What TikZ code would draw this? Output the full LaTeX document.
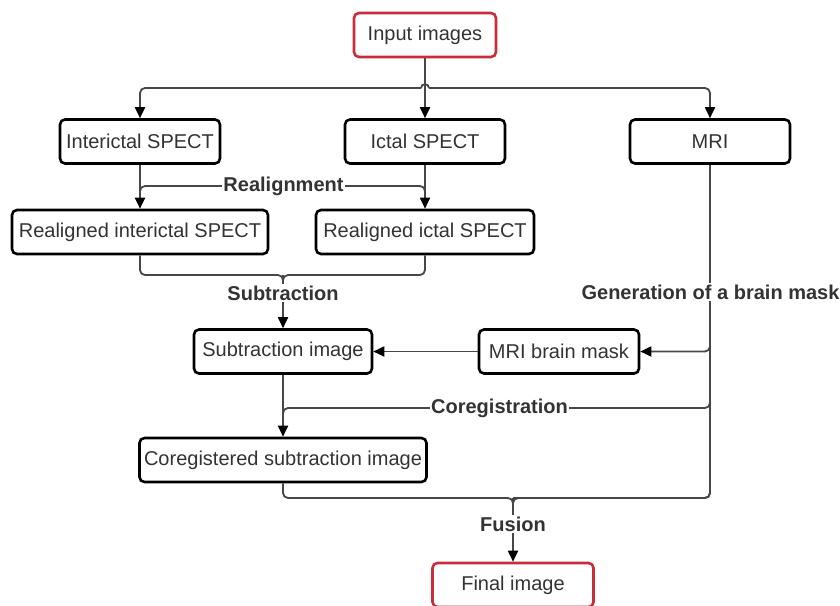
\documentclass[tikz,border=0pt]{standalone}
\usepackage{fontspec}
\setmainfont{Liberation Sans}
\usetikzlibrary{arrows.meta,calc}
\definecolor{lucred}{HTML}{C92D39}
\definecolor{txt}{HTML}{333333}
\definecolor{wirec}{HTML}{474747}
\begin{document}
\begin{tikzpicture}[x=1pt,y=-1pt,
  box/.style={draw=black,line width=2.6pt,rounded corners=5pt,fill=white,text=txt,
    font=\fontsize{20}{24}\selectfont,inner sep=0pt,minimum height=44pt},
  redbox/.style={box,draw=lucred},
  wire/.style={draw=wirec,line width=1.8pt,rounded corners=5pt},
  arr/.style={wire,-{Triangle[length=11pt,width=10pt,color=black]}},
  lbl/.style={fill=white,text=txt,font=\bfseries\fontsize{20}{24}\selectfont,inner sep=1.5pt}]
\useasboundingbox[fill=white] (0,0) rectangle (840,605);

% process boxes
\node[redbox,minimum width=142pt] (in)     at (425,35)    {Input images};
\node[box,minimum width=160pt]    (inter)  at (140,141.5) {Interictal SPECT};
\node[box,minimum width=160pt]    (ict)    at (425,141.5) {Ictal SPECT};
\node[box,minimum width=160pt]    (mri)    at (710,141.5) {MRI};
\node[box,minimum width=256pt]    (rinter) at (140,232)   {Realigned interictal SPECT};
\node[box,minimum width=218pt]    (rict)   at (425,232)   {Realigned ictal SPECT};
\node[box,minimum width=178pt]    (sub)    at (283,351.5) {Subtraction image};
\node[box,minimum width=160pt]    (mask)   at (559,351.5) {MRI brain mask};
\node[box,minimum width=287pt]    (coreg)  at (283,460)   {Coregistered subtraction image};
\node[redbox,minimum width=161pt] (final)  at (513,585)   {Final image};

% helper levels
\coordinate (busy)  at (0,88);
\coordinate (realy) at (0,186);
\coordinate (suby)  at (0,275);
\coordinate (masky) at (0,351.5);
\coordinate (cory)  at (0,408);
\coordinate (fusy)  at (0,498);

% input distribution bus with a line hop over the central arrow
\draw[arr] (in.south) -- (ict.north);
\draw[arr] ($(in.south |- busy)+(-4,0)$) -| (inter.north);
\draw[arr] ($(in.south |- busy)+(4,0)$) -| (mri.north);
\draw[wire] ($(in.south |- busy)+(-4,0)$) .. controls ($(in.south |- busy)+(-4,-5)$) and ($(in.south |- busy)+(4,-5)$) .. ($(in.south |- busy)+(4,0)$);

% realignment
\draw[arr] (inter.south) -- (rinter.north);
\draw[arr] (ict.south) -- (rict.north);
\draw[wire] ($(inter.south |- realy)+(0,9)$) |- (sub.north |- realy) -| ($(ict.south |- realy)+(0,9)$);
\node[lbl] (lreal) at (283.5,186) {Realignment};

% subtraction
\draw[wire] (rinter.south) |- (sub.north |- suby) -- ++(0,10);
\draw[wire] (rict.south) |- (sub.north |- suby) -- ++(0,10);
\draw[arr] (sub.north |- suby) -- (sub.north);
\node[lbl] (lsub) at (283,293) {Subtraction};

% brain mask branch
\draw[wire] (mri.south) |- (final.north |- fusy);
\draw[arr] ($(mri.south |- masky)+(0,-10)$) |- (mask.east);
\draw[arr] (mask.west) -- (sub.east);
\node[lbl] (lgen) at (710.5,292) {Generation of a brain mask};

% coregistration
\draw[arr] (sub.south) -- (coreg.north);
\draw[wire] ($(mri.south |- cory)+(0,-10)$) |- (coreg.north |- cory) -- ++(0,10);
\node[lbl] (lcor) at (499.5,408) {Coregistration};

% fusion
\draw[wire] (coreg.south) |- (final.north |- fusy) -- ++(0,10);
\draw[wire] ($(mri.south |- fusy)+(0,-10)$) |- (final.north |- fusy) -- ++(0,10);
\draw[arr] (final.north |- fusy) -- (final.north);
\node[lbl] (lfus) at (513,524) {Fusion};
\end{tikzpicture}
\end{document}
